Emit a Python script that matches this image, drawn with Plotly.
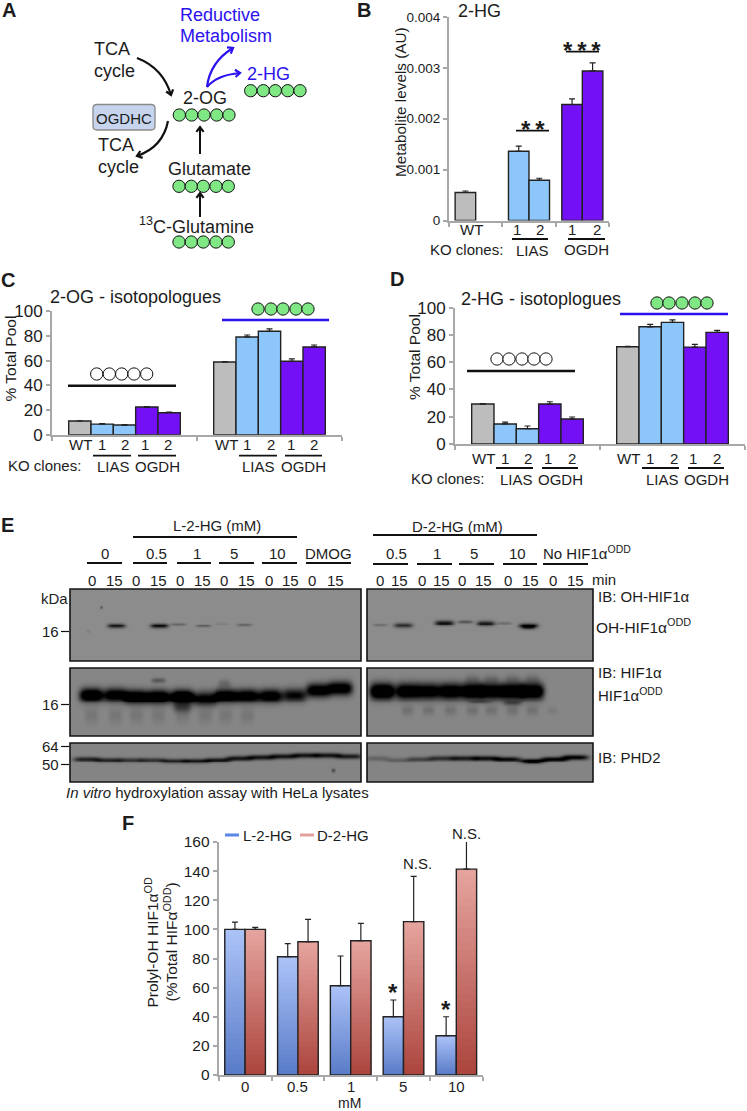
import numpy as np
import plotly.graph_objects as go

W, H = 747, 1111
FONT = "Liberation Sans"
INK = "#1c1c1c"
AXIS = "#a8a8a8"
GREY, SKY, VIOLET = "#bdbdbd", "#8cc6fb", "#7310f6"
BLUE_TXT = "#2b12ee"
GREEN = "#7fe884"

# ---------- data ----------
B_GROUPS = ["WT", "LIAS", "OGDH"]
B_CLONE1 = [0.00055, 0.00136, 0.00228]
B_CLONE1_TOP = [0.00058, 0.00146, 0.00239]
B_CLONE2 = [None, 0.00079, 0.00294]
B_CLONE2_TOP = [None, 0.00083, 0.00310]

POOL_SERIES = ["WT", "LIAS 1", "LIAS 2", "OGDH 1", "OGDH 2"]
C_VALUES = [[11.1, 58.9], [8.6, 79.2], [7.8, 83.8], [22.4, 59.5], [17.8, 71.1]]
C_TOPS = [[11.3, 59.3], [9.0, 80.8], [8.2, 85.7], [22.8, 61.4], [18.4, 72.7]]
D_VALUES = [[29.3, 71.4], [14.7, 86.0], [11.2, 89.2], [29.3, 71.1], [18.3, 81.9]]
D_TOPS = [[29.6, 71.7], [16.1, 87.8], [13.2, 91.0], [31.0, 73.1], [19.8, 83.4]]

F_DOSES = ["0", "0.5", "1", "5", "10"]
F_L = [100, 81.2, 61.3, 40, 27]
F_L_TOP = [105, 90.2, 81.7, 51.5, 40]
F_D = [100, 91.5, 92.2, 105.3, 141.4]
F_D_TOP = [101.4, 106.9, 104.1, 136.4, 170]

# blot band intensities per lane (0 = none, 1 = black)
OH_L = [0, .85, 0, .95, .32, .34, .10, .38]
OH_R = [.28, .72, 0, .90, .40, .85, .22, 1.0]
HIF_L = [1.4, 1.2, 1.4, 1.4, 1.6, 1.1, 1.3, 1.2, 1.2, 1.0, 1.3, 1.3]
HIF_R = [1.6, 1.4, 1.3, 1.4, 1.5, 1.4, 1.5, 1.5]
PHD_L = [.75, .72, .60, .62, .75, .85, .85, .85, .85, .85, .85, .85, .80]
PHD_R = [.25, .28, .50, .65, .80, .90, .95, 1.0, 1.0, 1.0]

# ---------- helpers ----------
PX, PY = "x11", "y11"
annotations, shapes = [], []
fig = go.Figure()


def xdom(a, b):
    return [a / W, b / W]


def ydom(top, bot):
    return [1 - bot / H, 1 - top / H]


def T(x, y, text, size=15, anchor="left", color=INK, bold=False, angle=0):
    annotations.append(dict(
        x=x, y=y, xref=PX, yref=PY, text=f"<b>{text}</b>" if bold else text,
        showarrow=False, xanchor=anchor, yanchor="middle", textangle=angle,
        borderpad=0, borderwidth=0,
        font=dict(family=FONT, size=size, color=color)))


def L(x0, x1, y0, y1=None, w=2.0, color="#111111"):
    shapes.append(dict(type="line", xref=PX, yref=PY, x0=x0, x1=x1, y0=y0,
                       y1=y0 if y1 is None else y1, line=dict(color=color, width=w)))


def curve(p0, c, p1, color="#111111", w=2.2, head=6):
    path = f"M{p0[0]},{p0[1]} Q{c[0]},{c[1]} {p1[0]},{p1[1]}"
    shapes.append(dict(type="path", xref=PX, yref=PY, path=path, line=dict(color=color, width=w)))
    arrowhead(c, p1, color, w, head)


def arrowhead(frm, tip, color="#111111", w=2.2, head=6):
    a = np.arctan2(tip[1] - frm[1], tip[0] - frm[0])
    pts = [(tip[0] - head * np.cos(a + s), tip[1] - head * np.sin(a + s)) for s in (.65, -.65)]
    path = f"M{pts[0][0]:.1f},{pts[0][1]:.1f} L{tip[0]},{tip[1]} L{pts[1][0]:.1f},{pts[1][1]:.1f}"
    shapes.append(dict(type="path", xref=PX, yref=PY, path=path, line=dict(color=color, width=w)))


def circles(xs, y, fill=GREEN):
    fig.add_trace(go.Scatter(
        x=xs, y=[y] * len(xs), xaxis=PX, yaxis=PY, mode="markers", hoverinfo="skip",
        showlegend=False,
        marker=dict(size=12.3, color=fill, line=dict(color="#111111", width=1))))


def bar(x, y, n, i, ax, color, tops=None, line=True, width=.385):
    kw = {}
    if tops is not None:
        up = [None if (t is None or v is None) else t - v for t, v in zip(tops, y)]
        kw["error_y"] = dict(type="data", symmetric=False, array=up,
                             arrayminus=[0] * len(up), thickness=1.2, width=3, color="#222222")
    fig.add_trace(go.Bar(
        x=x, y=y, xaxis="x" + ax, yaxis="y" + ax, width=width,
        offset=-width * n / 2 + i * width, showlegend=False, hoverinfo="skip",
        marker=dict(color=color, line=dict(color="#222222", width=1.4 if line else 0)),
        **kw))


def axis_pair(ax, dx, dy, xr, yr, xticks, yvals, ytext, size, xtext=None):
    lay = {}
    lay["xaxis" + ax] = dict(
        domain=xdom(*dx), range=xr, anchor="y" + ax, fixedrange=True, showgrid=False, zeroline=False,
        showline=True, linecolor=AXIS, linewidth=2, ticks="outside", ticklen=4, tickwidth=1.5,
        tickcolor=AXIS, tickvals=xticks, showticklabels=False,
        tickfont=dict(family=FONT, size=size, color=INK))
    lay["yaxis" + ax] = dict(
        domain=ydom(*dy), range=yr, anchor="x" + ax, fixedrange=True, showgrid=False, zeroline=False,
        showline=True, linecolor=AXIS, linewidth=2, ticks="outside", ticklen=4, tickwidth=1.5,
        tickcolor=AXIS, tickvals=yvals, ticktext=ytext,
        tickfont=dict(family=FONT, size=size, color=INK))
    return lay


layout_axes = {}

# ---------- panel B ----------
layout_axes.update(axis_pair("", (449, 609), (17, 220.5), [-.5, 2.5], [0, .004],
                             [-.5, .5, 1.5, 2.5], [0, .001, .002, .003, .004],
                             ["0", "0.001", "0.002", "0.003", "0.004"], 13.5))
bx = [0, 1, 2]
bar(bx, B_CLONE1, 2, 0, "", [GREY, SKY, VIOLET], B_CLONE1_TOP)
bar(bx, B_CLONE2, 2, 1, "", [GREY, SKY, VIOLET], B_CLONE2_TOP)

# ---------- panels C and D ----------
POOL_COLORS = [GREY, SKY, SKY, VIOLET, VIOLET]
layout_axes.update(axis_pair("2", (52, 342), (311.3, 434.7), [-.5, 1.5], [0, 100],
                             [-.5, .5, 1.5], [0, 20, 40, 60, 80, 100],
                             ["0", "20", "40", "60", "80", "100"], 17))
layout_axes.update(axis_pair("3", (455, 745), (307.7, 444), [-.5, 1.5], [0, 100],
                             [-.5, .5, 1.5], [0, 20, 40, 60, 80, 100],
                             ["0", "20", "40", "60", "80", "100"], 17))
for i, c in enumerate(POOL_COLORS):
    bar([0, 1], C_VALUES[i], 5, i, "2", c, C_TOPS[i], width=.154)
    bar([0, 1], D_VALUES[i], 5, i, "3", c, D_TOPS[i], width=.154)

# ---------- panel F (gradient bars: tallest/lightest first) ----------
layout_axes.update(axis_pair("4", (218.7, 482.7), (842, 1075), [-.5, 4.5], [0, 160],
                             [-.5, .5, 1.5, 2.5, 3.5, 4.5], [0, 20, 40, 60, 80, 100, 120, 140, 160],
                             [str(v) for v in range(0, 161, 20)], 15.5))
fx = [0, 1, 2, 3, 4]
GRAD = {"L": ((171, 194, 247), (90, 124, 200)), "D": ((229, 163, 158), (172, 70, 62))}
STEPS = 28
for i, (key, vals, tops) in enumerate((("L", F_L, F_L_TOP), ("D", F_D, F_D_TOP))):
    top, low = np.array(GRAD[key][0]), np.array(GRAD[key][1])
    for s in range(STEPS):
        frac = s / (STEPS - 1)
        rgb = top + (low - top) * frac
        col = f"rgb({rgb[0]:.0f},{rgb[1]:.0f},{rgb[2]:.0f})"
        bar(fx, [v * (1 - s / STEPS) for v in vals], 2, i, "4", col, line=False)
    bar(fx, vals, 2, i, "4", "rgba(0,0,0,0)", tops)

# ---------- panel E blots, painted as band images ----------
def blot(ax, x0, x1, y0, y1, bg, bands):
    xs = np.arange(x0, x1 + 1.0)
    ys = np.arange(y0, y1 + 1.0)
    gx, gy = np.meshgrid(xs, ys)
    dark = np.zeros_like(gx, dtype=float)
    for (cx, cy, hw, hh, k) in bands:
        dark += k * np.exp(-(np.abs(gx - cx) / hw) ** 4 - (np.abs(gy - cy) / hh) ** 2)
    z = bg * (1 - np.clip(dark, 0, 1))
    fig.add_trace(go.Heatmap(x=xs, y=ys, z=z, xaxis="x" + ax, yaxis="y" + ax, zmin=0, zmax=255,
                             colorscale=[[0, "#000000"], [1, "#ffffff"]], showscale=False,
                             hoverinfo="skip"))
    layout_axes["xaxis" + ax] = dict(domain=xdom(x0, x1), range=[x0 - .5, x1 + .5], visible=False,
                                     anchor="y" + ax, fixedrange=True)
    layout_axes["yaxis" + ax] = dict(domain=ydom(y0, y1), range=[y1 + .5, y0 - .5], visible=False,
                                     anchor="x" + ax, fixedrange=True)
    shapes.append(dict(type="rect", xref=PX, yref=PY, x0=x0, x1=x1, y0=y0, y1=y1,
                       line=dict(color="#151515", width=1.6), fillcolor="rgba(0,0,0,0)"))


OH_L_X = [92, 116, 137, 159, 178, 203, 222, 245]
OH_L_Y = [631, 626, 630, 626, 624.5, 626, 624, 625]
OH_R_X = [380, 403, 425, 444, 465, 486, 505, 529]
OH_R_Y = [625, 625.5, 623, 623, 621.5, 623.5, 623, 626]
HIF_L_X = [91, 115, 136, 158, 182, 205, 226, 248, 271, 295, 319, 341]
HIF_L_Y = [695, 695, 697, 697, 697, 699, 696, 696, 696, 695, 690, 688]
HIF_R_X = [382, 407, 428, 450, 472, 492, 513, 533]
PHD_L_X = [86, 108, 130, 152, 174, 196, 218, 240, 262, 284, 306, 328, 350]
PHD_L_Y = [759, 760, 760, 760, 761, 761, 760, 758, 757, 756, 755, 755, 756]
PHD_R_X = [376, 398, 420, 442, 464, 486, 508, 533, 555, 576]
PHD_R_Y = [758, 760, 759, 758, 758, 758, 759, 761, 759, 757]

blot("5", 70, 361, 589, 661, 140,
     [(x, y, 9 if k > .5 else 7.5, 2.6 if k > .5 else 1.7, k) for x, y, k in zip(OH_L_X, OH_L_Y, OH_L)] +
     [(101, 607, 1.5, 1.5, .35), (88, 632, 2, 1.5, .1)])
blot("6", 367, 593, 589, 661, 140,
     [(x, y, 9.5 if k > .5 else 7.5, 2.8 if k > .5 else 1.6, k) for x, y, k in zip(OH_R_X, OH_R_Y, OH_R)] +
     [(529, 628, 6, 2, .35)])
blot("7", 70, 361, 668, 736, 134,
     [(x, y, 12, 6.8, k) for x, y, k in zip(HIF_L_X, HIF_L_Y, HIF_L)] +
     [(x, 692, 8, 6, .10) for x in HIF_L_X[:9]] +
     [(x, 716, 7, 8, .12) for x in HIF_L_X[:8]] +
     [(158, 680, 7, 2.5, .35), (182, 708, 9, 5, .45), (225, 683, 6, 4, .2)])
blot("8", 367, 593, 668, 736, 134,
     [(x, 691, 12.5 if i < 1 else 11.5, 8, k) for i, (x, k) in enumerate(zip(HIF_R_X, HIF_R))] +
     [(x, 711, 6, 5, .16) for x in HIF_R_X[1:]] +
     [(x, 679, 7, 5, .15) for x in HIF_R_X[4:]] +
     [(513, 703, 9, 3, .4), (480, 702, 12, 2, .3), (553, 711, 5, 4, .08)])
blot("9", 70, 361, 743, 782, 132,
     [(x, y, 13, 2.6, k) for x, y, k in zip(PHD_L_X, PHD_L_Y, PHD_L)] + [(334, 771, 2, 2, .4)])
blot("10", 367, 593, 743, 782, 132,
     [(x, y, 13, 2.6, k) for x, y, k in zip(PHD_R_X, PHD_R_Y, PHD_R)] +
     [(533, 762, 8, 2, .5)])

# ---------- panel A ----------
T(9, 10, "A", 20, "center", bold=True)
T(180, 15, "Reductive", 18, color=BLUE_TXT)
T(180, 36, "Metabolism", 18, color=BLUE_TXT)
T(94, 49, "TCA", 18)
T(94, 71, "cycle", 18)
T(205, 98, "2-OG", 18, "center")
T(247, 74, "2-HG", 18, color=BLUE_TXT)
T(98, 145, "TCA", 18)
T(98, 167, "cycle", 18)
T(209, 169, "Glutamate", 18, "center")
T(196, 225, "<sup>13</sup>C-Glutamine", 18, "center")
T(124, 118, "OGDHC", 15, "center")
shapes.append(dict(type="path", xref=PX, yref=PY, layer="below",
                   path="M97,104.5 H151 Q155,104.5 155,108.5 V126 Q155,130 151,130 H97 "
                        "Q93,130 93,126 V108.5 Q93,104.5 97,104.5 Z",
                   fillcolor="#c6d4ed", line=dict(color="#8a8a8a", width=1.3)))
curve((137, 58), (163, 68), (171, 95))
curve((168, 121), (163, 147), (137, 156))
L(200, 200, 154, 128, 2)
arrowhead((200, 154), (200, 127))
L(200, 200, 217, 194, 2)
arrowhead((200, 217), (200, 193))
curve((207, 87), (210, 62), (233, 48), BLUE_TXT)
curve((207, 87), (217, 75), (240, 73), BLUE_TXT)
circles([179.3, 191.7, 204, 216.7, 229], 115)
circles([250.7, 263.3, 275.3, 287.7, 300], 90.7)
circles([179, 191.3, 203.3, 216, 228.3], 186.3)
circles([179, 191.3, 203.3, 216, 228.3], 242)

# ---------- panel B text ----------
T(364, 10, "B", 20, "center", bold=True)
T(458, 11, "2-HG", 18)
T(400, 102, "Metabolite levels (AU)", 15.3, "center", angle=-90)
for x, s in [(471, "WT"), (517, "1"), (540, "2"), (572, "1"), (597, "2")]:
    T(x, 229, s, 15, "center")
L(512, 548, 239, w=2.2)
L(568, 605, 239, w=2.2)
T(430, 249, "KO clones:", 15)
T(532, 250, "LIAS", 15, "center")
T(586, 249, "OGDH", 15, "center")
L(516, 549, 130.7, w=1.8)
L(566, 599, 51.7, w=1.8)
T(533, 129, "*\u2009*", 24, "center", bold=True)
T(582, 50, "*\u2009*\u2009*", 24, "center", bold=True)

# ---------- panel C text ----------
T(8, 280, "C", 20, "center", bold=True)
T(50, 297, "2-OG - isotopologues", 18)
T(9.5, 359, "% Total Pool", 15.5, "center", angle=-90)
for x, s in zip([80, 102, 125, 145, 168, 226, 247, 271, 291, 314], ["WT", "1", "2", "1", "2"] * 2):
    T(x, 444, s, 15, "center")
for a, b in [(93, 131), (138, 176), (239, 277), (285, 322)]:
    L(a, b, 455.7, w=1.8)
T(8, 465, "KO clones:", 15)
for x, s in [(113, "LIAS"), (157, "OGDH"), (258, "LIAS"), (303, "OGDH")]:
    T(x, 466, s, 15, "center")
L(68, 176, 385.7, w=2.5)
L(222, 329, 320, w=2.5, color=BLUE_TXT)
circles([96.7, 109.3, 121.7, 134, 146.7], 374, "#ffffff")
circles([258, 271, 283, 296, 308], 309)

# ---------- panel D text ----------
T(397, 279, "D", 20, "center", bold=True)
T(461, 299, "2-HG - isotoplogues", 18)
T(414, 357, "% Total Pool", 15.5, "center", angle=-90)
for x, s in zip([483, 505, 528, 548, 572, 628, 650, 674, 693, 717], ["WT", "1", "2", "1", "2"] * 2):
    T(x, 458, s, 15, "center")
for a, b in [(496, 533), (542, 578), (642, 679), (688, 724)]:
    L(a, b, 468, w=1.8)
T(411, 478, "KO clones:", 15)
for x, s in [(516, "LIAS"), (560, "OGDH"), (662, "LIAS"), (706, "OGDH")]:
    T(x, 479, s, 15, "center")
L(467, 575, 371, w=2.5)
L(620, 728, 314, w=2.5, color=BLUE_TXT)
circles([497, 509, 522, 534, 546], 359, "#ffffff")
circles([657, 669, 682, 695, 707], 303)

# ---------- panel E text ----------
T(7, 525, "E", 20, "center", bold=True)
T(217, 525, "L-2-HG (mM)", 15, "center")
L(133, 297, 537, w=2.2)
T(457, 526, "D-2-HG (mM)", 15, "center")
L(373, 537, 535, w=2.2)
for x, s in [(105, "0"), (156, "0.5"), (197, "1"), (234, "5"), (277, "10"), (328, "DMOG"),
             (396, "0.5"), (437, "1"), (474, "5"), (517, "10")]:
    T(x, 553, s, 15, "center")
T(543, 552, "No HIF1α<sup>ODD</sup>", 15)
for a, b in [(87, 122), (133, 167), (177, 211), (219, 254), (262, 297), (306, 351)]:
    L(a, b, 563, w=2.2)
for a, b in [(373, 408), (417, 452), (459, 494), (503, 537), (543, 588)]:
    L(a, b, 564, w=2.2)
for x, s in zip([92, 114, 136, 158, 180, 202, 224, 246, 269, 290, 312, 335,
                 380, 399, 422, 441, 462, 483, 508, 530, 553, 575],
                ["0", "15"] * 11):
    T(x, 580, s, 15, "center")
T(592, 579, "min", 15)
T(54, 598, "kDa", 15, "center")
for y, s in [(631, "16"), (704, "16"), (746, "64"), (764, "50")]:
    T(59, y, s, 15, "right")
    L(61, 69, y + .5, w=1.2)
T(66, 792, "<i>In vitro</i> hydroxylation assay with HeLa lysates", 15)
T(598, 596, "IB: OH-HIF1α", 15)
T(596, 626, "OH-HIF1α<sup>ODD</sup>", 15.5)
T(598, 672, "IB: HIF1α", 15)
T(598, 694, "HIF1α<sup>ODD</sup>", 15)
T(598, 757, "IB: PHD2", 15)

# ---------- panel F text ----------
T(128, 823, "F", 20, "center", bold=True)
L(225, 239, 835, w=3, color="#5b86e8")
T(243, 835, "L-2-HG", 15)
L(300, 314, 835, w=3, color="#e3a09c")
T(317, 835, "D-2-HG", 15)
T(151.5, 943, "Prolyl-OH HIF1α<sup>OD</sup>", 15.5, "center", angle=-90)
T(170.5, 942, "(%Total HIFα<sup>ODD</sup>)", 15.5, "center", angle=-90)
for i, s in enumerate(F_DOSES):
    T(245 + 52.8 * i, 1086, s, 15, "center")
T(349, 1102.8, "mM", 14, "center")
T(417, 863, "N.S.", 15, "center")
T(466, 833, "N.S.", 15, "center")
T(393, 992, "*", 24, "center", bold=True)
T(446, 1009, "*", 24, "center", bold=True)

# ---------- page overlay axes ----------
layout_axes["xaxis11"] = dict(domain=[0, 1], range=[0, W], visible=False, anchor="y11", fixedrange=True)
layout_axes["yaxis11"] = dict(domain=[0, 1], range=[H, 0], visible=False, anchor="x11", fixedrange=True)

fig.update_layout(
    width=W, height=H, margin=dict(l=0, r=0, t=0, b=0, pad=0, autoexpand=False), autosize=False,
    paper_bgcolor="white", plot_bgcolor="rgba(0,0,0,0)", barmode="overlay", showlegend=False,
    annotations=annotations, shapes=shapes, font=dict(family=FONT, color=INK), **layout_axes)
fig.write_html("out.html", config={"displayModeBar": False, "responsive": False},
               post_script="document.body.style.margin='0';")
